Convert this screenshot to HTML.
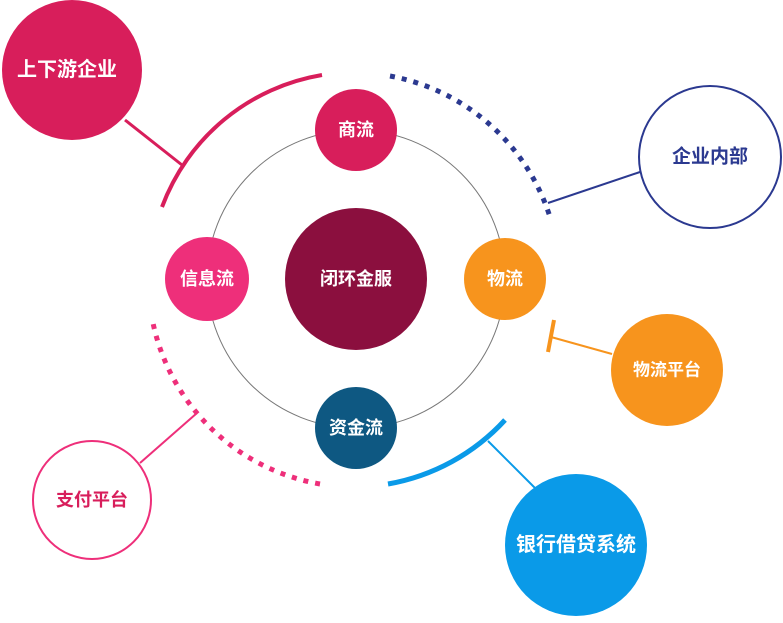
<!DOCTYPE html>
<html><head><meta charset="utf-8"><style>
html,body{margin:0;padding:0;background:#fff;}
svg text{font-family:"Liberation Sans","Noto Sans CJK SC",sans-serif;font-weight:bold;text-anchor:middle;dominant-baseline:central;}
</style></head><body>
<svg width="783" height="618" viewBox="0 0 783 618" xmlns="http://www.w3.org/2000/svg">
<circle cx="356" cy="279" r="149" fill="none" stroke="#777" stroke-width="1"/>
<path d="M162 207 A207 207 0 0 1 322 75" fill="none" stroke="#d81e5b" stroke-width="4"/>
<path d="M390 76 A207 207 0 0 1 550 217" fill="none" stroke="#2b3990" stroke-width="5" stroke-dasharray="5 7"/>
<path d="M505 420 A207 207 0 0 1 388 484" fill="none" stroke="#0a9ae8" stroke-width="5"/>
<path d="M320 484 A207 207 0 0 1 152 318" fill="none" stroke="#ee2f7a" stroke-width="5" stroke-dasharray="5 7"/>
<path d="M554 320 L548 352" stroke="#f7941d" stroke-width="4"/>
<line x1="125" y1="120" x2="182" y2="165" stroke="#d81e5b" stroke-width="3"/>
<line x1="548" y1="203" x2="640" y2="172" stroke="#2b3990" stroke-width="2"/>
<line x1="551" y1="337" x2="612" y2="354" stroke="#f7941d" stroke-width="2"/>
<line x1="488" y1="441" x2="535" y2="488" stroke="#0a9ae8" stroke-width="2"/>
<line x1="197" y1="413" x2="140" y2="463" stroke="#ee2f7a" stroke-width="2"/>
<circle cx="72" cy="70" r="70" fill="#d81e5b"/>
<text x="67" y="70" fill="#fff" font-size="20">上下游企业</text>
<circle cx="710" cy="157" r="71" fill="#fff" stroke="#2b3990" stroke-width="2"/>
<text x="710" y="157" fill="#2b3990" font-size="19">企业内部</text>
<circle cx="667" cy="370" r="56" fill="#f7941d"/>
<text x="667" y="370" fill="#fff" font-size="17">物流平台</text>
<circle cx="576" cy="545" r="71" fill="#0a9ae8"/>
<text x="576" y="545" fill="#fff" font-size="20">银行借贷系统</text>
<circle cx="92" cy="500" r="59" fill="#fff" stroke="#ee2f7a" stroke-width="2"/>
<text x="92" y="500" fill="#d81e5b" font-size="18">支付平台</text>
<circle cx="356" cy="279" r="71" fill="#8b0f3e"/>
<text x="356" y="279" fill="#fff" font-size="18">闭环金服</text>
<circle cx="356" cy="130" r="41" fill="#d81e5b"/>
<text x="356" y="130" fill="#fff" font-size="18">商流</text>
<circle cx="207" cy="279" r="42" fill="#ee2f7a"/>
<text x="207" y="279" fill="#fff" font-size="18">信息流</text>
<circle cx="505" cy="279" r="41" fill="#f7941d"/>
<text x="505" y="279" fill="#fff" font-size="18">物流</text>
<circle cx="356" cy="428" r="41" fill="#0e5882"/>
<text x="356" y="428" fill="#fff" font-size="18">资金流</text>
</svg>
</body></html>
